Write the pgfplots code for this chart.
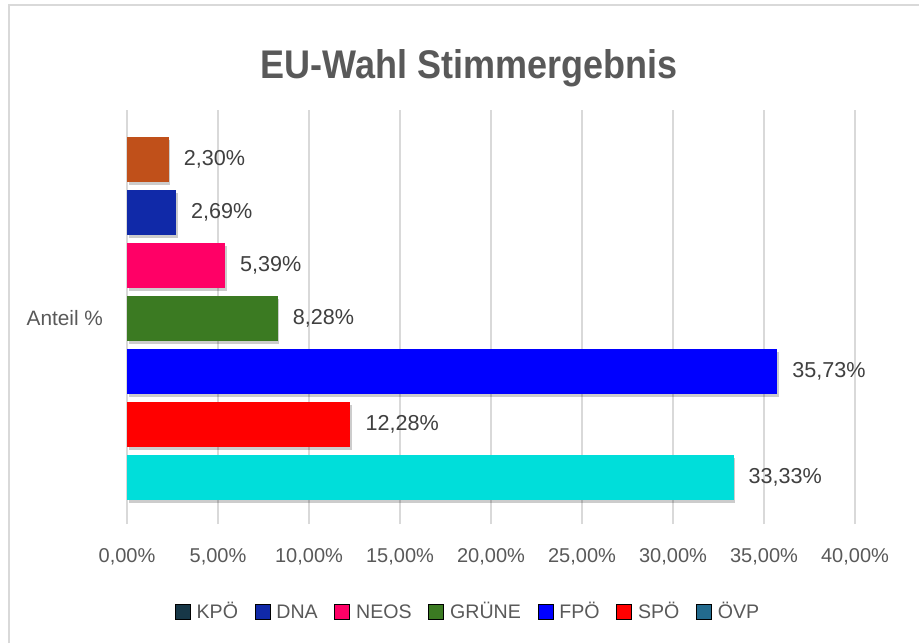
\documentclass[border=0pt]{standalone}
\usepackage{fontspec}
\setmainfont{Liberation Sans}
\newfontfamily\titlefont[FakeStretch=0.9]{Liberation Sans}
\usepackage{pgfplots}
\pgfplotsset{compat=1.18}
\usetikzlibrary{shadows}
\definecolor{cKPO}{HTML}{C0501A}
\definecolor{lKPO}{HTML}{173747}
\definecolor{cDNA}{HTML}{1029A8}
\definecolor{cNEOS}{HTML}{FF0066}
\definecolor{cGRUENE}{HTML}{3B7A22}
\definecolor{cFPO}{HTML}{0000FF}
\definecolor{cSPO}{HTML}{FF0000}
\definecolor{cOVP}{HTML}{00DEDA}
\definecolor{lOVP}{HTML}{236B8E}
\definecolor{gridgray}{HTML}{D9D9D9}
\definecolor{labelgray}{HTML}{595959}
\definecolor{datagray}{HTML}{404040}
\begin{document}
\begin{tikzpicture}[x=1pt,y=1pt]
\useasboundingbox (0,0) rectangle (459.5,321.5);
\fill[white] (0,0) rectangle (459.5,321.5);
\draw[gridgray, line width=1pt] (4.25,0) -- (4.25,318.75) -- (459.5,318.75);
\node[font=\titlefont\bfseries\fontsize{20}{24}\selectfont, text=labelgray] at (234.5,287.5) {EU-Wahl Stimmergebnis};
\begin{axis}[
  at={(63.5pt,59.5pt)}, anchor=south west,
  scale only axis, width=364pt, height=207pt,
  xmin=0, xmax=40, ymin=-0.877, ymax=6.934,
  xbar, bar width=22.5pt, bar shift=0pt,
  axis line style={draw=none},
  major tick length=0pt,
  xmajorgrids, ymajorgrids=false,
  major grid style={color=gridgray, line width=0.75pt},
  xtick={0,5,...,40},
  xticklabel={\pgfmathprintnumber[fixed,fixed zerofill,precision=2,use comma,assume math mode=true]{\tick}\%},
  xticklabel style={font=\fontsize{10}{12}\selectfont, text=labelgray, yshift=-8.5pt},
  ytick={3}, yticklabels={Anteil \%},
  yticklabel style={font=\fontsize{10.4}{12}\selectfont, text=labelgray, xshift=-8.5pt},
  point meta=x,
  nodes near coords={\pgfmathprintnumber[fixed,fixed zerofill,precision=2,use comma,assume math mode=true]{\pgfplotspointmeta}\%},
  every node near coord/.append style={anchor=west, xshift=4pt, font=\fontsize{10.8}{13}\selectfont, text=datagray},
  legend image code/.code={\fill[#1] (0pt,-3.6pt) rectangle (7.5pt,3.6pt); \path (9.5pt,0pt);},
  legend columns=7,
  legend style={at={(0.4684,-0.212)}, anchor=center, draw=none, fill=none,
    font=\fontsize{9.8}{11}\selectfont, text=labelgray,
    nodes={inner xsep=1pt, text height=7.1pt, text depth=0.3pt},
    /tikz/every even column/.append style={column sep=7.3pt}},
  legend cell align=left,
  mybar/.style={draw=none, forget plot, drop shadow={shadow xshift=0.8pt, shadow yshift=-1.5pt, opacity=0.2, fill=black}},
]
\addplot[mybar, fill=cKPO] coordinates {(2.30,6)};
\addplot[mybar, fill=cDNA] coordinates {(2.69,5)};
\addplot[mybar, fill=cNEOS] coordinates {(5.39,4)};
\addplot[mybar, fill=cGRUENE] coordinates {(8.28,3)};
\addplot[mybar, fill=cFPO] coordinates {(35.73,2)};
\addplot[mybar, fill=cSPO] coordinates {(12.28,1)};
\addplot[mybar, fill=cOVP] coordinates {(33.33,0)};
\addlegendimage{fill=lKPO}\addlegendentry{KPÖ}
\addlegendimage{fill=cDNA}\addlegendentry{DNA}
\addlegendimage{fill=cNEOS}\addlegendentry{NEOS}
\addlegendimage{fill=cGRUENE}\addlegendentry{GRÜNE}
\addlegendimage{fill=cFPO}\addlegendentry{FPÖ}
\addlegendimage{fill=cSPO}\addlegendentry{SPÖ}
\addlegendimage{fill=lOVP}\addlegendentry{ÖVP}
\end{axis}
\end{tikzpicture}
\end{document}
